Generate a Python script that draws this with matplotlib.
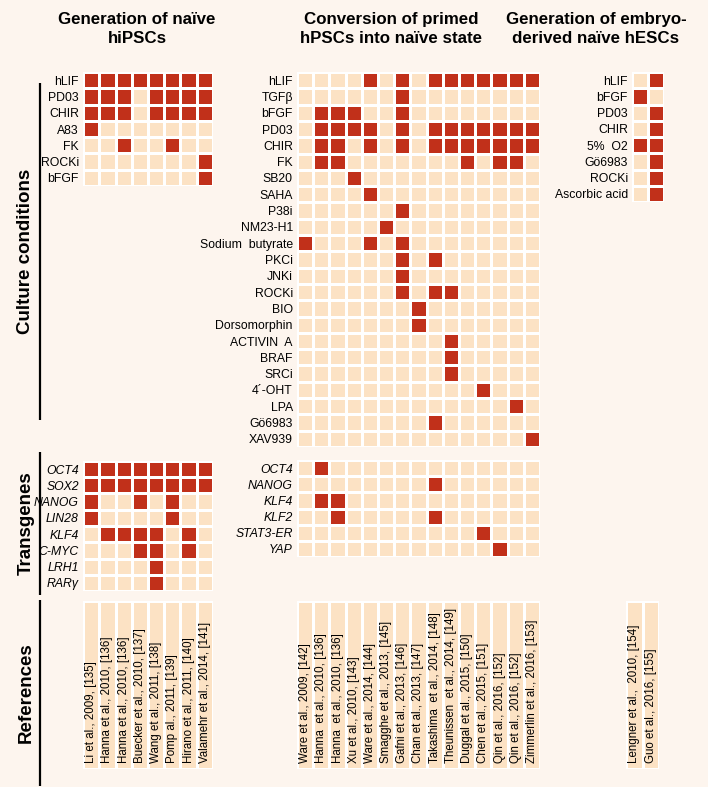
import numpy as np
import matplotlib.pyplot as plt
from matplotlib.colors import ListedColormap

plt.rcParams["font.family"] = ["Liberation Sans", "DejaVu Sans"]

W, H = 708, 787
BG = "#FDF5EE"
LIGHT = "#FCE2C4"
DARK = "#C1301A"
CMAP = ListedColormap([LIGHT, DARK])

# ---- Generation of naive hiPSCs
ipsc_refs = ["Li et al., 2009, [135]", "Hanna et al., 2010, [136]",
             "Hanna et al., 2010, [136]", "Buecker et al., 2010, [137]",
             "Wang et al., 2011, [138]", "Pomp al., 2011, [139]",
             "Hirano et al., 2011, [140]", "Valamehr et al., 2014, [141]"]
ipsc_culture_rows = ["hLIF", "PD03", "CHIR", "A83", "FK", "ROCKi", "bFGF"]
ipsc_culture = [
    [1, 1, 1, 1, 1, 1, 1, 1],
    [1, 1, 1, 0, 1, 1, 1, 1],
    [1, 1, 1, 0, 1, 1, 1, 1],
    [1, 0, 0, 0, 0, 0, 0, 0],
    [0, 0, 1, 0, 0, 1, 0, 0],
    [0, 0, 0, 0, 0, 0, 0, 1],
    [0, 0, 0, 0, 0, 0, 0, 1],
]
ipsc_gene_rows = ["OCT4", "SOX2", "NANOG", "LIN28", "KLF4", "C-MYC", "LRH1", "RARγ"]
ipsc_genes = [
    [1, 1, 1, 1, 1, 1, 1, 1],
    [1, 1, 1, 1, 1, 1, 1, 1],
    [1, 0, 0, 1, 0, 1, 0, 0],
    [1, 0, 0, 0, 0, 1, 0, 0],
    [0, 1, 1, 1, 1, 0, 1, 0],
    [0, 0, 0, 1, 1, 0, 1, 0],
    [0, 0, 0, 0, 1, 0, 0, 0],
    [0, 0, 0, 0, 1, 0, 0, 0],
]

# ---- Conversion of primed hPSCs into naive state
conv_refs = ["Ware et al., 2009, [142]", "Hanna  et al., 2010, [136]",
             "Hanna  et al., 2010, [136]", "Xu et al., 2010, [143]",
             "Ware et al., 2014, [144]", "Smagghe et al., 2013, [145]",
             "Gafni et al., 2013, [146]", "Chan et al., 2013, [147]",
             "Takashima  et al., 2014, [148]", "Theunissen  et al., 2014, [149]",
             "Duggal et al., 2015, [150]", "Chen et al., 2015, [151]",
             "Qin et al., 2016, [152]", "Qin et al., 2016, [152]",
             "Zimmerlin et al., 2016, [153]"]
conv_culture_rows = ["hLIF", "TGFβ", "bFGF", "PD03", "CHIR", "FK", "SB20", "SAHA",
                     "P38i", "NM23-H1", "Sodium  butyrate", "PKCi", "JNKi", "ROCKi",
                     "BIO", "Dorsomorphin", "ACTIVIN  A", "BRAF", "SRCi", "4´-OHT",
                     "LPA", "Gö6983", "XAV939"]
conv_culture = [
    [0, 0, 0, 0, 1, 0, 1, 0, 1, 1, 1, 1, 1, 1, 1],
    [0, 0, 0, 0, 0, 0, 1, 0, 0, 0, 0, 0, 0, 0, 0],
    [0, 1, 1, 1, 0, 0, 1, 0, 0, 0, 0, 0, 0, 0, 0],
    [0, 1, 1, 1, 1, 0, 1, 0, 1, 1, 1, 1, 1, 1, 1],
    [0, 1, 1, 0, 1, 0, 1, 0, 1, 1, 1, 1, 1, 1, 1],
    [0, 1, 1, 0, 0, 0, 0, 0, 0, 0, 1, 0, 1, 1, 0],
    [0, 0, 0, 1, 0, 0, 0, 0, 0, 0, 0, 0, 0, 0, 0],
    [0, 0, 0, 0, 1, 0, 0, 0, 0, 0, 0, 0, 0, 0, 0],
    [0, 0, 0, 0, 0, 0, 1, 0, 0, 0, 0, 0, 0, 0, 0],
    [0, 0, 0, 0, 0, 1, 0, 0, 0, 0, 0, 0, 0, 0, 0],
    [1, 0, 0, 0, 1, 0, 1, 0, 0, 0, 0, 0, 0, 0, 0],
    [0, 0, 0, 0, 0, 0, 1, 0, 1, 0, 0, 0, 0, 0, 0],
    [0, 0, 0, 0, 0, 0, 1, 0, 0, 0, 0, 0, 0, 0, 0],
    [0, 0, 0, 0, 0, 0, 1, 0, 1, 1, 0, 0, 0, 0, 0],
    [0, 0, 0, 0, 0, 0, 0, 1, 0, 0, 0, 0, 0, 0, 0],
    [0, 0, 0, 0, 0, 0, 0, 1, 0, 0, 0, 0, 0, 0, 0],
    [0, 0, 0, 0, 0, 0, 0, 0, 0, 1, 0, 0, 0, 0, 0],
    [0, 0, 0, 0, 0, 0, 0, 0, 0, 1, 0, 0, 0, 0, 0],
    [0, 0, 0, 0, 0, 0, 0, 0, 0, 1, 0, 0, 0, 0, 0],
    [0, 0, 0, 0, 0, 0, 0, 0, 0, 0, 0, 1, 0, 0, 0],
    [0, 0, 0, 0, 0, 0, 0, 0, 0, 0, 0, 0, 0, 1, 0],
    [0, 0, 0, 0, 0, 0, 0, 0, 1, 0, 0, 0, 0, 0, 0],
    [0, 0, 0, 0, 0, 0, 0, 0, 0, 0, 0, 0, 0, 0, 1],
]
conv_gene_rows = ["OCT4", "NANOG", "KLF4", "KLF2", "STAT3-ER", "YAP"]
conv_genes = [
    [0, 1, 0, 0, 0, 0, 0, 0, 0, 0, 0, 0, 0, 0, 0],
    [0, 0, 0, 0, 0, 0, 0, 0, 1, 0, 0, 0, 0, 0, 0],
    [0, 1, 1, 0, 0, 0, 0, 0, 0, 0, 0, 0, 0, 0, 0],
    [0, 0, 1, 0, 0, 0, 0, 0, 1, 0, 0, 0, 0, 0, 0],
    [0, 0, 0, 0, 0, 0, 0, 0, 0, 0, 0, 1, 0, 0, 0],
    [0, 0, 0, 0, 0, 0, 0, 0, 0, 0, 0, 0, 1, 0, 0],
]

# ---- Generation of embryo-derived naive hESCs
esc_refs = ["Lengner et al.,  2010, [154]", "Guo et al., 2016, [155]"]
esc_culture_rows = ["hLIF", "bFGF", "PD03", "CHIR", "5%  O2", "Gö6983", "ROCKi",
                    "Ascorbic acid"]
esc_culture = [
    [0, 1],
    [1, 0],
    [0, 1],
    [0, 1],
    [1, 1],
    [0, 1],
    [0, 1],
    [0, 1],
]


def px_axes(fig, x0, y0, w, h):
    return fig.add_axes([x0 / W, 1 - (y0 + h) / H, w / W, h / H])


def grid_panel(fig, rect, data, rows, italic=False):
    ax = px_axes(fig, *rect)
    m = np.array(data)
    ax.pcolormesh(m, cmap=CMAP, vmin=0, vmax=1, edgecolors="white", linewidth=0.8)
    ax.set_xlim(0, m.shape[1])
    ax.set_ylim(m.shape[0], 0)
    ax.set_xticks([])
    ax.set_yticks(np.arange(len(rows)) + 0.5)
    ax.set_yticklabels(rows, fontsize=8.8, style="italic" if italic else "normal")
    ax.tick_params(length=0, pad=3)
    for s in ax.spines.values():
        s.set_visible(False)
    return ax


def ref_panel(fig, rect, refs):
    ax = px_axes(fig, *rect)
    ax.pcolormesh(np.zeros((1, len(refs))), cmap=CMAP, vmin=0, vmax=1,
                  edgecolors="white", linewidth=0.8)
    ax.set_xlim(0, len(refs))
    ax.set_ylim(1, 0)
    for i, r in enumerate(refs):
        ax.text(i + 0.5, 0.965, r, rotation=90, ha="center", va="bottom", fontsize=8.3)
    ax.axis("off")
    return ax


def main():
    fig = plt.figure(figsize=(W / 100, H / 100), dpi=100, facecolor=BG)

    # background layer for titles and side brackets
    bg = fig.add_axes([0, 0, 1, 1], zorder=-1)
    bg.set_xlim(0, W)
    bg.set_ylim(H, 0)
    bg.axis("off")

    title_kw = dict(ha="center", va="center", fontsize=12.2, fontweight="bold",
                    linespacing=1.3)
    bg.text(137, 29, "Generation of naïve\nhiPSCs", **title_kw)
    bg.text(391, 29, "Conversion of primed\nhPSCs into naïve state", **title_kw)
    bg.text(596, 29, "Generation of embryo-\nderived naïve hESCs", **title_kw)

    sections = [("Culture conditions", 83, 420),
                ("Transgenes", 452, 595),
                ("References", 600, 786)]
    for name, y0, y1 in sections:
        bg.plot([40, 40], [y0, y1], color="black", lw=1.6, solid_capstyle="butt")
        bg.text(26, (y0 + y1) / 2, name, rotation=90, ha="center", va="center",
                fontsize=13.5, fontweight="bold")

    # left block
    grid_panel(fig, (83, 72, 130, 114), ipsc_culture, ipsc_culture_rows)
    grid_panel(fig, (83, 461, 130, 130), ipsc_genes, ipsc_gene_rows, italic=True)
    ref_panel(fig, (83, 601, 130, 168), ipsc_refs)

    # middle block
    grid_panel(fig, (297, 72, 243, 375), conv_culture, conv_culture_rows)
    grid_panel(fig, (297, 460, 243, 97), conv_genes, conv_gene_rows, italic=True)
    ref_panel(fig, (297, 601, 243, 168), conv_refs)

    # right block
    grid_panel(fig, (632, 72, 32, 130), esc_culture, esc_culture_rows)
    ref_panel(fig, (626, 601, 33, 168), esc_refs)

    fig.savefig("out.png", dpi=100, facecolor=BG)
    plt.close(fig)


if __name__ == "__main__":
    main()
